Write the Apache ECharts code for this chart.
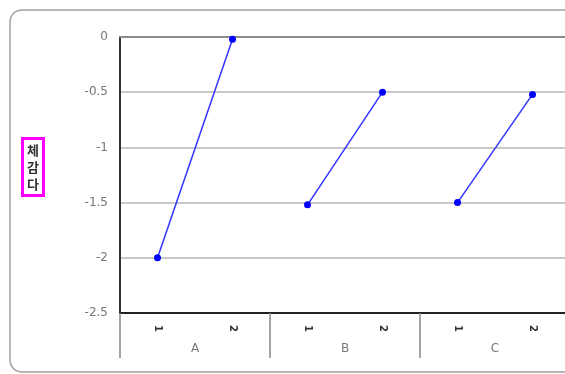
<!DOCTYPE html>
<html>
<head>
<meta charset="utf-8">
<script src="https://cdn.jsdelivr.net/npm/echarts@6/dist/echarts.min.js"></script>
<style>
  html, body { margin: 0; padding: 0; background: #fff; }
  #chart { width: 565px; height: 374px; }
</style>
</head>
<body>
<div id="chart"></div>
<script>
// Two-level category axis: inner ticks (1, 2) inside groups (A, B, C)
const groups = ['A', 'B', 'C'];
const innerLabels = ['1', '2', '1', '2', '1', '2'];
// One broken segment per group
const valuesA = [-2.0, -0.02];
const valuesB = [-1.52, -0.5];
const valuesC = [-1.5, -0.52];
const yTicks = { min: -2.5, max: 0, interval: 0.5 };
const axisTitle = '체\n감\n다';

function placeInGroup(vals, groupIndex) {
  const row = innerLabels.map(() => null);
  vals.forEach((v, i) => { row[groupIndex * 2 + i] = v; });
  return row;
}

const lineStyle = { color: '#3333ff', width: 1.5 };
const makeSeries = (vals, gi) => ({
  type: 'line',
  data: placeInGroup(vals, gi),
  xAxisIndex: 0,
  symbol: 'circle',
  symbolSize: 7,
  itemStyle: { color: '#0000ff' },
  lineStyle: lineStyle,
  connectNulls: false,
  animation: false
});

const chart = echarts.init(document.getElementById('chart'), null, { renderer: 'canvas' });
chart.setOption({
  backgroundColor: '#fff',
  animation: false,
  title: {
    text: axisTitle,
    left: 22,
    top: 138,
    padding: [4, 5, 3, 5],
    borderColor: '#ff00ff',
    borderWidth: 3,
    textStyle: { fontSize: 13, fontWeight: 'bold', color: '#333', lineHeight: 17,
      fontFamily: 'Noto Sans CJK KR' }
  },
  graphic: [{
    type: 'rect',
    z: -10,
    shape: { x: 10, y: 10, width: 620, height: 362, r: 12 },
    style: { fill: 'none', stroke: '#a0a0a0', lineWidth: 1.5 }
  }],
  grid: { left: 120, top: 37, width: 450, height: 276, containLabel: false,
    outerBoundsMode: 'none' },
  xAxis: [{
    type: 'category',
    data: innerLabels,
    position: 'bottom',
    boundaryGap: true,
    axisLine: { show: true, onZero: false, lineStyle: { color: '#222', width: 2 } },
    axisTick: { show: false },
    axisLabel: { rotate: -90, margin: 12, color: '#333', fontSize: 10,
      fontFamily: 'DejaVu Sans', fontWeight: 'bold' },
    splitLine: { show: false }
  }, {
    type: 'category',
    data: groups,
    position: 'bottom',
    boundaryGap: true,
    axisLine: { show: false, onZero: false },
    axisTick: { show: true, inside: false, length: 45, interval: 0,
      lineStyle: { color: '#888', width: 1.5 } },
    axisLabel: { margin: 30, color: '#777', fontSize: 12, fontFamily: 'DejaVu Sans' },
    splitLine: { show: false }
  }, {
    // top edge of the plot
    type: 'category',
    data: innerLabels,
    position: 'top',
    axisLine: { show: true, onZero: false, lineStyle: { color: '#8a8a8a', width: 2 } },
    axisTick: { show: false },
    axisLabel: { show: false },
    splitLine: { show: false }
  }],
  yAxis: {
    type: 'value',
    min: yTicks.min,
    max: yTicks.max,
    interval: yTicks.interval,
    axisLine: { show: true, lineStyle: { color: '#333', width: 2 } },
    axisTick: { show: false },
    axisLabel: { margin: 12, color: '#777', fontSize: 12, fontFamily: 'DejaVu Sans' },
    splitLine: { show: true, lineStyle: { color: '#c8c8c8', width: 2 } }
  },
  series: [makeSeries(valuesA, 0), makeSeries(valuesB, 1), makeSeries(valuesC, 2)]
});
</script>
</body>
</html>
